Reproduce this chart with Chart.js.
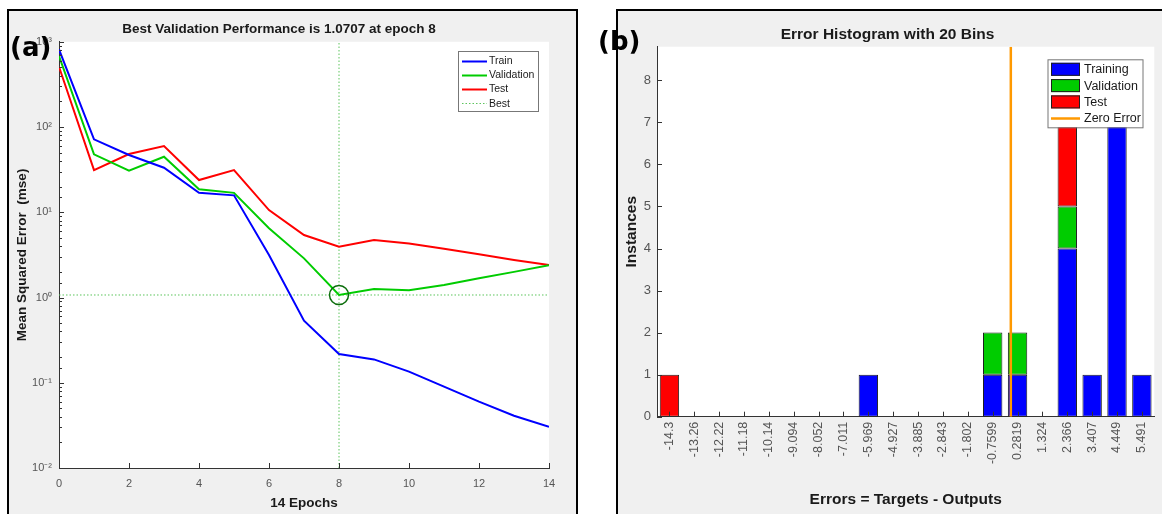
<!DOCTYPE html>
<html>
<head>
<meta charset="utf-8">
<script src="https://cdn.jsdelivr.net/npm/chart.js@4.4.1/dist/chart.umd.min.js"></script>
<style>
  html, body { margin:0; padding:0; background:#ffffff; overflow:hidden; width:1162px; height:514px; }
  .panel { position:absolute; box-sizing:border-box; background:#f0f0f0; border:2px solid #000; overflow:hidden; }
  #panelA { left:7px; top:9px; width:571px; height:520px; }
  #panelB { left:616px; top:9px; width:560px; height:520px; }
  .panel canvas { position:absolute; left:0; top:0; }
  .tag { position:absolute; z-index:10; font-family:"DejaVu Sans", sans-serif; font-weight:bold; font-size:26px; line-height:1; color:#000; }
</style>
</head>
<body>
<div class="panel" id="panelA"><canvas id="chartA" width="567" height="503"></canvas></div>
<div class="panel" id="panelB"><canvas id="chartB" width="544" height="503"></canvas></div>
<div class="tag" style="left:10px; top:34px;">(a)</div>
<div class="tag" style="left:598px; top:28px;">(b)</div>
<script>
// ---------- Panel (a): training performance ----------
const epochs = [0, 1, 2, 3, 4, 5, 6, 7, 8, 9, 10, 11, 12, 13, 14];
const trainPerf = [815, 71.7, 47, 33.3, 16.9, 15.8, 3.15, 0.535, 0.217, 0.188, 0.135, 0.090, 0.060, 0.041, 0.0305];
const validationPerf = [680, 47.8, 30.7, 44.8, 18.6, 16.9, 6.5, 2.88, 1.0707, 1.26, 1.22, 1.40, 1.68, 2.0, 2.40];
const testPerf = [510, 31.3, 48.2, 59.8, 23.9, 31.3, 10.6, 5.41, 3.94, 4.72, 4.3, 3.74, 3.21, 2.75, 2.40];
const bestEpoch = 8;
const bestPerf = 1.0707;
const perfRange = [0.01, 1000];
const epochRange = [0, 14];
const epochTickStep = 2;
const titleA = 'Best Validation Performance is 1.0707 at epoch 8';
const xTitleA = '14 Epochs';
const yTitleA = 'Mean Squared Error  (mse)';
const seriesNamesA = ['Train', 'Validation', 'Test', 'Best'];

// ---------- Panel (b): error histogram ----------
const binLabels = ['-14.3', '-13.26', '-12.22', '-11.18', '-10.14', '-9.094', '-8.052', '-7.011', '-5.969', '-4.927',
                   '-3.885', '-2.843', '-1.802', '-0.7599', '0.2819', '1.324', '2.366', '3.407', '4.449', '5.491'];
const trainingCounts   = [0, 0, 0, 0, 0, 0, 0, 0, 1, 0, 0, 0, 0, 1, 1, 0, 4, 1, 8, 1];
const validationCounts = [0, 0, 0, 0, 0, 0, 0, 0, 0, 0, 0, 0, 0, 1, 1, 0, 1, 0, 0, 0];
const testCounts       = [1, 0, 0, 0, 0, 0, 0, 0, 0, 0, 0, 0, 0, 0, 0, 0, 2, 0, 0, 0];
const zeroError = 0;
const countRange = [0, 8.8];
const countTickStep = 1;
const titleB = 'Error Histogram with 20 Bins';
const xTitleB = 'Errors = Targets - Outputs';
const yTitleB = 'Instances';
const seriesNamesB = ['Training', 'Validation', 'Test', 'Zero Error'];

// ---------- shared helpers ----------
Chart.defaults.font.family = '"Liberation Sans", Arial, sans-serif';
Chart.defaults.animation = false;
const FONT = '"Liberation Sans", Arial, sans-serif';
const SUP = {'-': '\u207B', '0': '\u2070', '1': '\u00B9', '2': '\u00B2', '3': '\u00B3', '4': '\u2074', '5': '\u2075'};
const toSup = s => String(s).split('').map(c => SUP[c] || c).join('');

const plotBackground = {
  id: 'plotBackground',
  beforeDraw(chart) {
    const a = chart.chartArea, ctx = chart.ctx;
    ctx.save(); ctx.fillStyle = '#ffffff';
    ctx.fillRect(a.left, a.top, a.right - a.left, a.bottom - a.top);
    ctx.restore();
  }
};

const inwardTicks = {
  id: 'inwardTicks',
  afterDraw(chart, args, o) {
    const ctx = chart.ctx, a = chart.chartArea;
    const xs = chart.scales.x, ys = chart.scales.y;
    ctx.save(); ctx.strokeStyle = o.color; ctx.lineWidth = 1; ctx.beginPath();
    xs.ticks.forEach((t, i) => {
      const px = Math.round(xs.getPixelForTick(i)) + 0.5;
      ctx.moveTo(px, a.bottom); ctx.lineTo(px, a.bottom - o.major);
    });
    ys.ticks.forEach((t, i) => {
      const py = Math.round(ys.getPixelForTick(i)) + 0.5;
      let major = true;
      if (o.log) { const e = Math.log10(t.value); major = Math.abs(e - Math.round(e)) < 1e-6; }
      ctx.moveTo(a.left, py); ctx.lineTo(a.left + (major ? o.major : o.minor), py);
    });
    ctx.stroke(); ctx.restore();
  }
};

const boxLegend = {
  id: 'boxLegend',
  afterDraw(chart, args, o) {
    const ctx = chart.ctx;
    ctx.save();
    ctx.fillStyle = '#ffffff'; ctx.fillRect(o.x, o.y, o.w, o.h);
    ctx.strokeStyle = o.border; ctx.lineWidth = 1; ctx.strokeRect(o.x + 0.5, o.y + 0.5, o.w, o.h);
    ctx.font = o.font; ctx.textBaseline = 'middle'; ctx.textAlign = 'left';
    o.items.forEach((it, i) => {
      const ds = chart.data.datasets[it.dataset];
      const cy = o.y + o.firstY + i * o.step;
      if (it.kind === 'box') {
        ctx.fillStyle = ds.backgroundColor;
        ctx.fillRect(o.x + o.symX, cy - o.boxH / 2, o.symW, o.boxH);
        ctx.strokeStyle = '#1e1e1e'; ctx.lineWidth = 1; ctx.setLineDash([]);
        ctx.strokeRect(o.x + o.symX + 0.5, cy - o.boxH / 2 + 0.5, o.symW - 1, o.boxH - 1);
      } else {
        ctx.strokeStyle = ds.borderColor; ctx.lineWidth = ds.borderWidth;
        ctx.setLineDash(ds.borderDash || []);
        ctx.beginPath(); ctx.moveTo(o.x + o.symX, Math.round(cy) + 0.5); ctx.lineTo(o.x + o.symX + o.symW, Math.round(cy) + 0.5); ctx.stroke();
        ctx.setLineDash([]);
      }
      ctx.fillStyle = o.textColor;
      ctx.fillText(ds.label, o.x + o.textX, cy + 0.5);
    });
    ctx.restore();
  }
};

// ---------- Chart (a) ----------
const pts = arr => epochs.map((e, i) => ({x: e, y: arr[i]}));
new Chart(document.getElementById('chartA'), {
  type: 'line',
  data: {
    datasets: [
      {label: seriesNamesA[0], data: pts(trainPerf), borderColor: '#0000ff', borderWidth: 2, pointRadius: 0, order: 1},
      {label: seriesNamesA[1], data: pts(validationPerf), borderColor: '#00cc00', borderWidth: 2, pointRadius: 0, order: 2},
      {label: seriesNamesA[2], data: pts(testPerf), borderColor: '#ff0000', borderWidth: 2, pointRadius: 0, order: 3},
      {label: seriesNamesA[3], data: [{x: bestEpoch, y: perfRange[0]}, {x: bestEpoch, y: perfRange[1]}],
       borderColor: '#5cc45c', borderWidth: 1, borderDash: [1.5, 2], pointRadius: 0, order: 5},
      {label: '', data: [{x: epochRange[0], y: bestPerf}, {x: epochRange[1], y: bestPerf}],
       borderColor: '#5cc45c', borderWidth: 1, borderDash: [1.5, 2], pointRadius: 0, order: 5},
      {label: '', data: [{x: bestEpoch, y: bestPerf}], showLine: false, pointRadius: 9.5, pointStyle: 'circle',
       pointBorderColor: '#0d6e0d', pointBackgroundColor: 'rgba(0,0,0,0)', pointBorderWidth: 1.5, order: -1}
    ]
  },
  options: {
    responsive: false, devicePixelRatio: 1, animation: false,
    layout: {padding: {left: 0, right: 27, top: 0, bottom: 0}},
    plugins: {
      legend: {display: false}, tooltip: {enabled: false},
      title: {display: true, text: titleA, color: '#1a1a1a', font: {family: FONT, size: 13.5, weight: 'bold'},
              padding: {top: 10.2, bottom: 4.4}},
      inwardTicks: {color: '#333333', major: 5, minor: 3, log: true},
      boxLegend: {x: 449, y: 40, w: 80, h: 60, border: '#777777', font: '10.5px ' + FONT, textColor: '#1a1a1a',
                  firstY: 9.5, step: 14.3, symX: 4, symW: 25, textX: 31, boxH: 10,
                  items: [{dataset: 0, kind: 'line'}, {dataset: 1, kind: 'line'}, {dataset: 2, kind: 'line'}, {dataset: 3, kind: 'line'}]}
    },
    scales: {
      x: {
        type: 'linear', min: epochRange[0], max: epochRange[1],
        afterFit: s => { s.height = 46; },
        grid: {display: false, drawTicks: false},
        border: {display: true, color: '#333333', width: 1},
        ticks: {stepSize: epochTickStep, padding: 9, color: '#555555', font: {size: 11}},
        title: {display: true, text: xTitleA, color: '#1a1a1a', font: {family: FONT, size: 13.5, weight: 'bold'}, padding: {top: 0, bottom: 2.6}}
      },
      y: {
        type: 'logarithmic', min: perfRange[0], max: perfRange[1],
        afterFit: s => { s.width = 50; },
        grid: {display: false, drawTicks: false},
        border: {display: true, color: '#333333', width: 1},
        ticks: {autoSkip: false, padding: 7, color: '#555555', font: {size: 11},
                callback: v => { const e = Math.log10(v); return Math.abs(e - Math.round(e)) < 1e-6 ? '10' + toSup(Math.round(e)) : ''; }},
        title: {display: true, text: yTitleA, color: '#1a1a1a', font: {family: FONT, size: 13.5, weight: 'bold'}, padding: {top: 4.9, bottom: 0}}
      }
    }
  },
  plugins: [plotBackground, inwardTicks, boxLegend]
});

// ---------- Chart (b) ----------
const binValues = binLabels.map(Number);
let zi = 0;
while (zi < binValues.length - 2 && binValues[zi + 1] <= zeroError) zi++;
const zeroIndex = zi + (zeroError - binValues[zi]) / (binValues[zi + 1] - binValues[zi]);

const barStyle = {stack: 'hist', grouped: false, borderColor: '#1e1e1e', borderWidth: 1, barPercentage: 0.78, categoryPercentage: 1, order: 1, borderSkipped: false};
new Chart(document.getElementById('chartB'), {
  type: 'bar',
  data: {
    labels: binLabels,
    datasets: [
      Object.assign({label: seriesNamesB[0], data: trainingCounts, backgroundColor: '#0000ff'}, barStyle),
      Object.assign({label: seriesNamesB[1], data: validationCounts, backgroundColor: '#00cc00'}, barStyle),
      Object.assign({label: seriesNamesB[2], data: testCounts, backgroundColor: '#ff0000'}, barStyle),
      {type: 'line', label: seriesNamesB[3], xAxisID: 'x2', stack: 'zero', order: 0,
       data: [{x: zeroIndex, y: countRange[0]}, {x: zeroIndex, y: countRange[1]}],
       borderColor: '#ff9900', borderWidth: 2.5, pointRadius: 0}
    ]
  },
  options: {
    responsive: false, devicePixelRatio: 1, animation: false,
    layout: {padding: {left: 0, right: 5, top: 0, bottom: 0}},
    plugins: {
      legend: {display: false}, tooltip: {enabled: false},
      title: {display: true, text: titleB, color: '#1a1a1a', font: {family: FONT, size: 15.5, weight: 'bold'},
              padding: {top: 14.7, bottom: 2.4}},
      inwardTicks: {color: '#333333', major: 5, minor: 5, log: false},
      boxLegend: {x: 429.5, y: 48.3, w: 95, h: 68, border: '#777777', font: '12.5px ' + FONT, textColor: '#1a1a1a',
                  firstY: 10, step: 16.3, symX: 3.5, symW: 29, textX: 36.5, boxH: 13,
                  items: [{dataset: 0, kind: 'box'}, {dataset: 1, kind: 'box'}, {dataset: 2, kind: 'box'}, {dataset: 3, kind: 'line'}]}
    },
    scales: {
      x: {
        type: 'category', stacked: true, offset: true,
        afterFit: s => { s.height = 97.3; },
        grid: {display: false, drawTicks: false},
        border: {display: true, color: '#333333', width: 1},
        ticks: {autoSkip: false, minRotation: 90, maxRotation: 90, padding: 5, color: '#555555', font: {size: 12.5}},
        title: {display: true, text: xTitleB, color: '#1a1a1a', font: {family: FONT, size: 15.5, weight: 'bold'}, padding: {top: 0, bottom: 4.7}}
      },
      x2: {type: 'linear', display: false, offset: false, grid: {offset: false}, min: -0.5, max: binLabels.length - 0.5},
      y: {
        type: 'linear', stacked: true, min: countRange[0], max: countRange[1],
        afterFit: s => { s.width = 39; },
        grid: {display: false, drawTicks: false},
        border: {display: true, color: '#333333', width: 1},
        ticks: {stepSize: countTickStep, includeBounds: false, padding: 6, color: '#555555', font: {size: 13}},
        title: {display: true, text: yTitleB, color: '#1a1a1a', font: {family: FONT, size: 15.5, weight: 'bold'}, padding: {top: 4.7, bottom: 0}}
      }
    }
  },
  plugins: [plotBackground, inwardTicks, boxLegend]
});
</script>
</body>
</html>
